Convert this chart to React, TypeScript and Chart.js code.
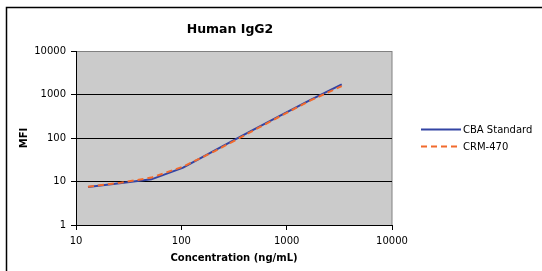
import React, { useEffect, useRef } from 'react';
import { Chart, registerables } from 'chart.js';

Chart.register(...registerables);

// ---- data ----
const concentrations = [13, 26, 52, 104, 208, 416, 833, 1666, 3333];
const cbaStandard = [7.5, 9.1, 11.2, 20.8, 52, 128, 309, 740, 1715];
const crm470 = [7.6, 9.3, 12.3, 22, 50, 122, 300, 720, 1560];
const xTicks = [10, 100, 1000, 10000];
const yTicks = [1, 10, 100, 1000, 10000];
const seriesNames = ['CBA Standard', 'CRM-470'];
const chartTitle = 'Human IgG2';
const xTitle = 'Concentration (ng/mL)';
const yTitle = 'MFI';

const FONT = '"DejaVu Sans", Verdana, sans-serif';
const BLUE = '#3344a4';
const ORANGE = '#f26a2c';
const PLOT_BG = '#cbcbcb';

const decorPlugin = {
  id: 'decor',
  beforeDraw(chart: any) {
    const { ctx, chartArea: a, width, height } = chart;
    ctx.save();
    ctx.fillStyle = '#ffffff';
    ctx.fillRect(0, 0, width, height);
    // outer chart border (left and top visible)
    ctx.strokeStyle = '#000000';
    ctx.lineWidth = 1.5;
    ctx.beginPath();
    ctx.moveTo(6.5, height + 5);
    ctx.lineTo(6.5, 7.5);
    ctx.lineTo(width + 5, 7.5);
    ctx.stroke();
    // plot area
    ctx.fillStyle = PLOT_BG;
    ctx.fillRect(a.left, a.top, a.right - a.left, a.bottom - a.top);
    ctx.strokeStyle = '#808080';
    ctx.lineWidth = 1;
    ctx.strokeRect(a.left + 0.5, a.top + 0.5, a.right - a.left - 0.5, a.bottom - a.top);
    ctx.restore();
  },
  afterDraw(chart: any) {
    const { ctx, chartArea: a } = chart;
    ctx.save();
    ctx.fillStyle = '#000000';
    // title
    ctx.font = `bold 12.5px ${FONT}`;
    ctx.textAlign = 'center';
    ctx.textBaseline = 'middle';
    ctx.fillText(chartTitle, 230, 30);
    // x title
    ctx.font = `bold 10px ${FONT}`;
    ctx.fillText(xTitle, (a.left + a.right) / 2, 258);
    // y title
    ctx.save();
    ctx.translate(24.5, (a.top + a.bottom) / 2);
    ctx.rotate(-Math.PI / 2);
    ctx.fillText(yTitle, 0, 0);
    ctx.restore();
    // legend
    const ys = [129.5, 146.5];
    chart.data.datasets.forEach((ds: any, i: number) => {
      const y = ys[i];
      ctx.save();
      ctx.strokeStyle = ds.borderColor;
      ctx.lineWidth = ds.borderWidth;
      ctx.setLineDash(ds.borderDash || []);
      ctx.beginPath();
      ctx.moveTo(421, y);
      ctx.lineTo(461, y);
      ctx.stroke();
      ctx.restore();
      ctx.font = `10px ${FONT}`;
      ctx.textAlign = 'left';
      ctx.textBaseline = 'middle';
      ctx.fillStyle = '#000000';
      ctx.fillText(ds.label, 463, y + 1);
    });
    ctx.restore();
  },
};

export default function App() {
  const ref = useRef<HTMLCanvasElement>(null);
  useEffect(() => {
    if (!ref.current) return;
    const chart = new Chart(ref.current, {
      type: 'line',
      data: {
        datasets: [
          {
            label: seriesNames[0],
            data: concentrations.map((x, i) => ({ x, y: cbaStandard[i] })),
            borderColor: BLUE,
            borderWidth: 2,
            pointRadius: 0,
            tension: 0,
            fill: false,
            order: 1,
          },
          {
            label: seriesNames[1],
            data: concentrations.map((x, i) => ({ x, y: crm470[i] })),
            borderColor: ORANGE,
            borderWidth: 2,
            borderDash: [6, 4],
            pointRadius: 0,
            tension: 0,
            fill: false,
            order: 0,
          },
        ],
      },
      options: {
        animation: false,
        responsive: false,
        devicePixelRatio: 1,
        layout: { padding: { left: 6, top: 51, right: 150, bottom: 0 } },
        plugins: { legend: { display: false }, title: { display: false }, tooltip: { enabled: false } },
        scales: {
          x: {
            type: 'logarithmic',
            min: 10,
            max: 10000,
            afterBuildTicks: (s: any) => {
              s.ticks = xTicks.map((v) => ({ value: v }));
            },
            afterFit: (s: any) => {
              s.height = 46;
            },
            ticks: {
              callback: (v: any) => String(v),
              font: { family: FONT, size: 10 },
              color: '#000000',
              maxRotation: 0,
              autoSkip: false,
              padding: 5,
            },
            grid: { drawOnChartArea: false, tickLength: 5, tickColor: '#000000', color: '#000000' },
            border: { color: '#000000', width: 1 },
          },
          y: {
            type: 'logarithmic',
            min: 1,
            max: 10000,
            afterBuildTicks: (s: any) => {
              s.ticks = yTicks.map((v) => ({ value: v }));
            },
            afterFit: (s: any) => {
              s.width = 70;
            },
            ticks: {
              callback: (v: any) => String(v),
              font: { family: FONT, size: 10 },
              color: '#000000',
              autoSkip: false,
              padding: 5,
            },
            grid: {
              tickLength: 5,
              tickColor: '#000000',
              color: (c: any) => (c.tick && c.tick.value === 10000 ? '#808080' : '#000000'),
            },
            border: { color: '#000000', width: 1 },
          },
        },
      },
      plugins: [decorPlugin],
    } as any);
    return () => chart.destroy();
  }, []);
  return (
    <canvas
      ref={ref}
      width={542}
      height={271}
      style={{ position: 'absolute', left: 0, top: 0, width: 542, height: 271 }}
    />
  );
}
